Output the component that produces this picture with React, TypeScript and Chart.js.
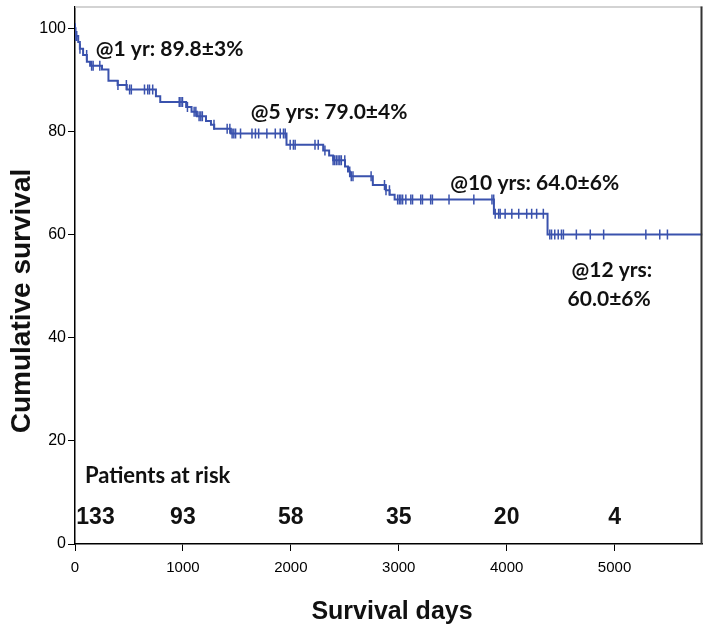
import React, { useEffect, useRef } from "react";
import { Chart, registerables } from "chart.js";

Chart.register(...registerables);

// Kaplan-Meier step curve: day of each drop and survival (%) after it
const EVENT_DAYS = [0, 5, 30, 45, 75, 110, 140, 250, 310, 395, 480, 750, 790, 1030, 1080, 1130, 1214, 1260, 1290, 1444, 1960, 2300, 2355, 2392, 2502, 2530, 2548, 2760, 2880, 2916, 2962, 3882, 4379, 5815];
const SURVIVAL = [100, 98.5, 97.3, 96.0, 94.8, 93.5, 92.7, 92.0, 89.8, 89.0, 88.1, 86.8, 85.7, 84.7, 83.8, 82.9, 82.0, 81.3, 80.5, 79.6, 77.4, 76.3, 75.3, 74.4, 73.2, 72.2, 71.3, 69.6, 68.6, 67.7, 66.8, 64.0, 60.0, 60.0];

// Censored observations (days)
const CENSOR_DAYS = [2, 8, 16, 46, 108, 154, 168, 230, 398, 476, 506, 522, 644, 674, 690, 720, 966, 982, 996, 1042, 1104, 1120, 1150, 1166, 1180, 1288, 1410, 1435, 1456, 1472, 1488, 1534, 1640, 1672, 1702, 1778, 1856, 1902, 1932, 1948, 1994, 2024, 2040, 2224, 2254, 2316, 2392, 2406, 2422, 2438, 2454, 2468, 2500, 2546, 2560, 2576, 2744, 2868, 2882, 2914, 2990, 3006, 3020, 3036, 3066, 3112, 3128, 3204, 3220, 3296, 3312, 3466, 3696, 3864, 3880, 3894, 3926, 3940, 3986, 4048, 4112, 4186, 4232, 4278, 4340, 4400, 4416, 4446, 4478, 4508, 4526, 4646, 4775, 4899, 5290, 5419, 5490];

const X_TICKS = [0, 1000, 2000, 3000, 4000, 5000];
const Y_TICKS = [0, 20, 40, 60, 80, 100];

const AT_RISK_DAYS = [190, 1000, 2000, 3000, 4000, 5000];
const AT_RISK = ["133", "93", "58", "35", "20", "4"];

const NOTE_TEXTS = ["@1 yr: 89.8±3%", "@5 yrs: 79.0±4%", "@10 yrs: 64.0±6%", "@12 yrs:", "60.0±6%"];

const X_TITLE = "Survival days";
const Y_TITLE = "Cumulative survival";
const RISK_TITLE = "Patients at risk";

// ---- layout / style (kept apart from the data) ----
const NOTE_POS = [
  { x: 193, y: 96.0, align: "left" },
  { x: 1628, y: 83.7, align: "left" },
  { x: 3477, y: 69.9, align: "left" },
  { x: 4975, y: 53.0, align: "center" },
  { x: 4950, y: 47.4, align: "center" },
];
const RISK_TITLE_POS = { x: 92, y: 13.2 };
const RISK_ROW_Y = 5.2;
const X_MAX = 5815;
const Y_MAX = 104.2;
const BLUE = "#3a52ad";

function survivalAt(t: number): number {
  let v = SURVIVAL[0];
  for (let i = 0; i < EVENT_DAYS.length; i++) {
    if (EVENT_DAYS[i] <= t) v = SURVIVAL[i];
    else break;
  }
  return v;
}

const overlay = {
  id: "overlay",
  afterDatasetsDraw(chart: any) {
    const { ctx, chartArea: ca, scales } = chart;
    const xs = scales.x;
    const ys = scales.y;
    ctx.save();
    // frame: light top, dark right
    ctx.strokeStyle = "#c4c4c4";
    ctx.lineWidth = 1.5;
    ctx.beginPath();
    ctx.moveTo(ca.left, ca.top + 0.5);
    ctx.lineTo(ca.right, ca.top + 0.5);
    ctx.stroke();
    ctx.strokeStyle = "#333";
    ctx.lineWidth = 2;
    ctx.beginPath();
    ctx.moveTo(ca.right - 1, ca.top);
    ctx.lineTo(ca.right - 1, ca.bottom);
    ctx.stroke();

    ctx.fillStyle = "#111";
    ctx.textBaseline = "middle";
    ctx.font = "bold 21px Lato, 'Open Sans', sans-serif";
    NOTE_TEXTS.forEach((t, i) => {
      const p = NOTE_POS[i];
      ctx.textAlign = p.align;
      ctx.fillText(t, xs.getPixelForValue(p.x), ys.getPixelForValue(p.y));
    });
    ctx.textAlign = "left";
    ctx.font = "bold 22px Lato, 'Open Sans', sans-serif";
    ctx.fillText(RISK_TITLE, xs.getPixelForValue(RISK_TITLE_POS.x), ys.getPixelForValue(RISK_TITLE_POS.y));

    ctx.textAlign = "center";
    ctx.font = "bold 23px 'Liberation Sans Narrow', 'Liberation Sans', Arial, sans-serif";
    AT_RISK.forEach((n, i) => {
      ctx.fillText(n, xs.getPixelForValue(AT_RISK_DAYS[i]), ys.getPixelForValue(RISK_ROW_Y));
    });

    // axis titles
    ctx.textAlign = "center";
    ctx.font = "bold 25px 'Liberation Sans', Arial, sans-serif";
    ctx.fillText(X_TITLE, 392, 612);
    ctx.save();
    ctx.translate(22, 301);
    ctx.rotate(-Math.PI / 2);
    ctx.font = "bold 28px 'Liberation Sans', Arial, sans-serif";
    ctx.fillText(Y_TITLE, 0, 0);
    ctx.restore();
    ctx.restore();
  },
};

export default function App() {
  const ref = useRef<HTMLCanvasElement | null>(null);
  useEffect(() => {
    if (!ref.current) return;
    const chart = new Chart(ref.current, {
      type: "scatter",
      data: {
        datasets: [
          {
            data: EVENT_DAYS.map((d, i) => ({ x: d, y: SURVIVAL[i] })),
            showLine: true,
            stepped: true,
            borderColor: BLUE,
            borderWidth: 2,
            pointRadius: 0,
            fill: false,
          } as any,
          {
            data: CENSOR_DAYS.map((d) => ({ x: d, y: survivalAt(d) })),
            showLine: false,
            pointStyle: "line",
            rotation: 90,
            pointRadius: 5,
            borderColor: BLUE,
            backgroundColor: BLUE,
            borderWidth: 1.5,
          } as any,
        ],
      },
      options: {
        animation: false,
        responsive: false,
        devicePixelRatio: 1,
        events: [],
        layout: { padding: { top: 1, right: 2, left: 0, bottom: 0 } },
        plugins: { legend: { display: false }, tooltip: { enabled: false } },
        scales: {
          x: {
            type: "linear",
            min: 0,
            max: X_MAX,
            afterBuildTicks: (s: any) => {
              s.ticks = X_TICKS.map((v) => ({ value: v }));
            },
            afterFit: (s: any) => {
              s.height = 82;
              s.paddingLeft = 0;
              s.paddingRight = 0;
            },
            border: { display: true, color: "#000", width: 1.5 },
            grid: { drawOnChartArea: false, drawTicks: true, tickLength: 7, color: "#000", lineWidth: 1 },
            ticks: {
              color: "#000",
              padding: 8,
              maxRotation: 0,
              font: { family: "'Liberation Sans Narrow', 'Liberation Sans', Arial, sans-serif", size: 15 },
              callback: (v: any) => String(v),
            },
          },
          y: {
            type: "linear",
            min: 0,
            max: Y_MAX,
            afterBuildTicks: (s: any) => {
              s.ticks = Y_TICKS.map((v) => ({ value: v }));
            },
            afterFit: (s: any) => {
              s.width = 75;
              s.paddingTop = 0;
              s.paddingBottom = 0;
            },
            border: { display: true, color: "#000", width: 1.5 },
            grid: { drawOnChartArea: false, drawTicks: true, tickLength: 7, color: "#000", lineWidth: 1 },
            ticks: {
              color: "#000",
              padding: 2,
              font: { family: "'Liberation Sans', Arial, sans-serif", size: 16 },
              callback: (v: any) => String(v),
            },
          },
        },
      },
      plugins: [overlay],
    } as any);
    return () => chart.destroy();
  }, []);
  return (
    <div style={{ position: "absolute", left: 0, top: 0, width: 709, height: 626, background: "#fff" }}>
      <canvas ref={ref} width={709} height={626} style={{ width: 709, height: 626, display: "block" }} />
    </div>
  );
}
